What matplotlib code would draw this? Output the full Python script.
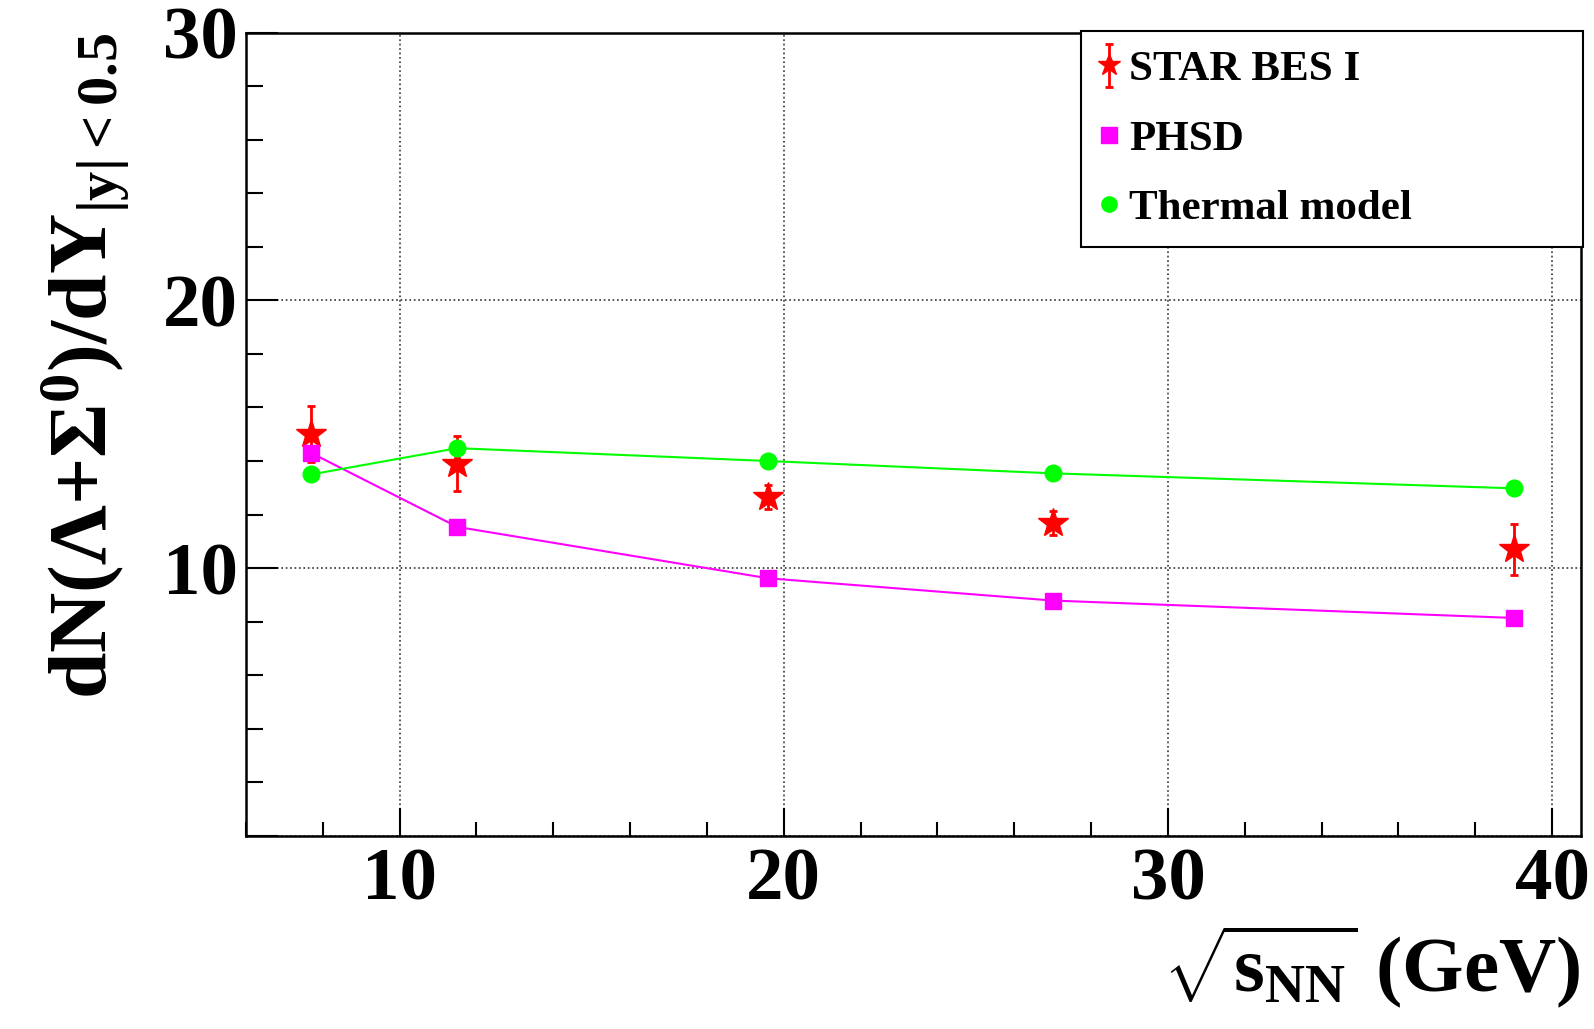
import matplotlib
matplotlib.use('Agg')
import matplotlib.pyplot as plt
from matplotlib.ticker import MultipleLocator, FuncFormatter

# Lambda + Sigma0 midrapidity yields vs collision energy
energy = [7.7, 11.5, 19.6, 27.0, 39.0]
star_yield = [15.0, 13.9, 12.65, 11.68, 10.7]
star_err = [1.05, 1.03, 0.45, 0.45, 0.94]
phsd_yield = [14.3, 11.54, 9.62, 8.79, 8.14]
thermal_yield = [13.5, 14.48, 14.0, 13.54, 12.98]

plt.rcParams['font.family'] = 'Liberation Serif'
plt.rcParams['font.weight'] = 'bold'
plt.rcParams['mathtext.fontset'] = 'custom'
plt.rcParams['mathtext.rm'] = 'Liberation Serif'
plt.rcParams['mathtext.it'] = 'Liberation Serif:bold'
plt.rcParams['mathtext.bf'] = 'Liberation Serif:bold'

fig = plt.figure(figsize=(15.94, 10.29), dpi=100)
ax = fig.add_axes([0.1543, 0.1876, 0.8375, 0.7808])

red = '#ff0000'
magenta = '#ff00ff'
green = '#00ff00'

h_star = ax.errorbar(energy, star_yield, yerr=star_err, fmt='*', color=red, ms=22,
                     elinewidth=2, capsize=3, capthick=2, label='STAR BES I', zorder=3)
ax.plot(energy, phsd_yield, '-', color=magenta, lw=1.5, zorder=4)
h_phsd, = ax.plot(energy, phsd_yield, 's', color=magenta, ms=12, label='PHSD', zorder=4)
ax.plot(energy, thermal_yield, '-', color=green, lw=1.5, zorder=5)
h_th, = ax.plot(energy, thermal_yield, 'o', color=green, ms=12, label='Thermal model', zorder=5)

ax.set_xlim(6.0, 40.75)
ax.set_ylim(0, 30)
ax.xaxis.set_major_locator(MultipleLocator(10))
ax.xaxis.set_minor_locator(MultipleLocator(2))
ax.yaxis.set_major_locator(MultipleLocator(10))
ax.yaxis.set_minor_locator(MultipleLocator(2))
ax.yaxis.set_major_formatter(FuncFormatter(lambda v, p: '' if v == 0 else '%d' % v))

ax.grid(True, which='major', linestyle=':', color='#333333', linewidth=1.2)
ax.tick_params(axis='x', which='major', direction='in', length=20, width=1.5,
               labelsize=54, pad=8)
ax.tick_params(axis='x', which='minor', direction='in', length=10, width=1.5)
ax.tick_params(axis='y', which='major', direction='in', length=23, width=1.5,
               labelsize=54, pad=6)
ax.tick_params(axis='y', which='minor', direction='in', length=12, width=1.5)
for lab in ax.get_xticklabels() + ax.get_yticklabels():
    lab.set_fontweight('bold')
for sp in ax.spines.values():
    sp.set_linewidth(1.8)

ax.set_ylabel(r'dN(Λ+Σ$^{\mathbf{0}}$)/dY$_{\mathbf{|y|<0.5}}$', fontsize=60,
              fontweight='bold', loc='top')
ax.yaxis.set_label_coords(-0.086, 1.0)
ax.set_xlabel(r'$\sqrt{s_{\mathrm{NN}}}$ (GeV)', fontsize=57, fontweight='bold',
              loc='right')
ax.xaxis.set_label_coords(1.0, -0.108)
ax.xaxis.label.set_verticalalignment('top')

leg = ax.legend([h_star, h_phsd, h_th], ['STAR BES I', 'PHSD', 'Thermal model'],
                loc='upper left', bbox_to_anchor=(0.678, 0.763, 0.315, 0.207),
                bbox_transform=fig.transFigure, mode='expand', borderaxespad=0,
                prop={'weight': 'bold', 'size': 31}, markerscale=0.75,
                fancybox=False, framealpha=1, edgecolor='black',
                labelspacing=0.7, borderpad=0.45, handlelength=0.4,
                handletextpad=0.27)
leg.get_frame().set_linewidth(1.5)
leg.set_zorder(10)
for hnd in leg.legend_handles[1:]:
    hnd.set_markersize(11)

fig.savefig('out.png', dpi=100)
